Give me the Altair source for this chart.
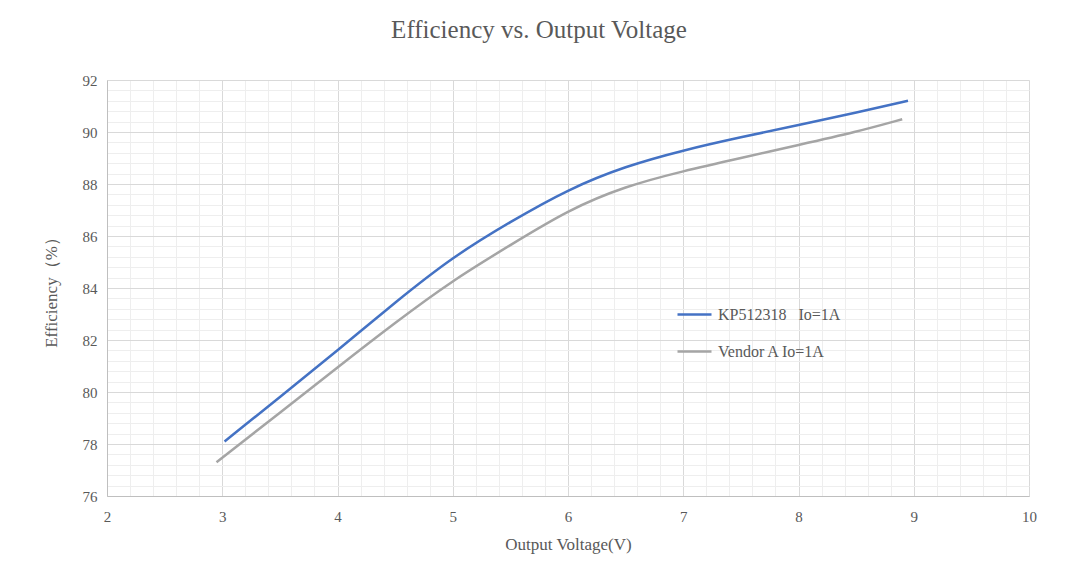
import altair as alt
import pandas as pd

SERIES_A = "KP512318\u00a0\u00a0\u00a0Io=1A"
SERIES_B = "Vendor A Io=1A"

kp_x = [3.02, 3.5, 4.0, 4.5, 5.0, 5.5, 6.0, 6.5, 7.0, 7.5, 8.0, 8.5, 8.95]
kp_y = [78.1, 79.8, 81.6, 83.45, 85.2, 86.55, 87.8, 88.69, 89.3, 89.8, 90.27, 90.74, 91.2]

va_x = [2.95, 3.5, 4.0, 4.5, 5.0, 5.5, 6.0, 6.5, 7.0, 7.5, 8.0, 8.5, 8.9]
va_y = [77.3, 79.2, 80.95, 82.67, 84.3, 85.65, 87.0, 87.92, 88.5, 89.0, 89.5, 90.0, 90.49]

x_major = [2, 3, 4, 5, 6, 7, 8, 9, 10]
y_major = [76, 78, 80, 82, 84, 86, 88, 90, 92]
x_minor = [round(2 + 0.2 * i, 2) for i in range(41)]
y_minor = [round(76 + 0.4 * i, 2) for i in range(41)]

df = pd.DataFrame(
    [{"v": x, "e": y, "s": SERIES_A, "o": i} for i, (x, y) in enumerate(zip(kp_x, kp_y))]
    + [{"v": x, "e": y, "s": SERIES_B, "o": i} for i, (x, y) in enumerate(zip(va_x, va_y))]
)

FONT = "Liberation Serif"
TXT = "#595959"

xscale = alt.Scale(domain=[2, 10], nice=False, zero=False)
yscale = alt.Scale(domain=[76, 92], nice=False, zero=False)

minor = alt.Chart(df).mark_line(opacity=0).encode(
    x=alt.X("v:Q", scale=xscale, axis=alt.Axis(orient="top", values=x_minor, labels=False, ticks=False,
                                                  domain=False, title=None, grid=True, gridColor="#eeeeee",
                                                  gridWidth=1)),
    y=alt.Y("e:Q", scale=yscale, axis=alt.Axis(orient="right", values=y_minor, labels=False, ticks=False,
                                                  domain=False, title=None, grid=True, gridColor="#eeeeee",
                                                  gridWidth=1)),
    detail="s:N",
    order="o:Q",
)

lines = alt.Chart(df).mark_line(strokeWidth=2.5, interpolate="basis").encode(
    x=alt.X("v:Q", scale=xscale, axis=alt.Axis(orient="bottom", values=x_major, title="Output Voltage(V)",
                                                  grid=True, gridColor="#d9d9d9", ticks=False,
                                                  domainColor="#bfbfbf", labelPadding=13,
                                                  labelFlush=False, titlePadding=12)),
    y=alt.Y("e:Q", scale=yscale, axis=alt.Axis(orient="left", values=y_major, title="Efficiency（%）",
                                                  grid=True, gridColor="#d9d9d9", ticks=False,
                                                  domainColor="#bfbfbf", labelPadding=10,
                                                  labelFlush=False, titlePadding=22)),
    color=alt.Color("s:N", scale=alt.Scale(domain=[SERIES_A, SERIES_B], range=["#4472C4", "#A5A5A5"]),
                    legend=alt.Legend(orient="none", legendX=569, legendY=216, title=None,
                                      symbolType="stroke", symbolSize=1156, symbolStrokeWidth=2.5,
                                      labelFont=FONT, labelFontSize=16, labelColor=TXT,
                                      rowPadding=10, labelOffset=5, padding=0)),
    order="o:Q",
)

chart = alt.layer(minor, lines).resolve_axis(x="independent", y="independent").properties(
    width=922,
    height=416,
    autosize=alt.AutoSizeParams(type="none"),
    padding={"left": 99, "top": 72, "right": 43, "bottom": 71},
    title=alt.TitleParams("Efficiency vs. Output Voltage", font=FONT, fontSize=25, fontWeight="normal",
                          color=TXT, anchor="middle", dx=-29, offset=30),
).configure_axis(
    labelFont=FONT, labelFontSize=15, labelColor=TXT,
    titleFont=FONT, titleFontSize=17, titleColor=TXT, titleFontWeight="normal",
).configure_view(stroke="#d9d9d9")

chart.save("out.html", embed_options={"renderer": "svg", "actions": False})
